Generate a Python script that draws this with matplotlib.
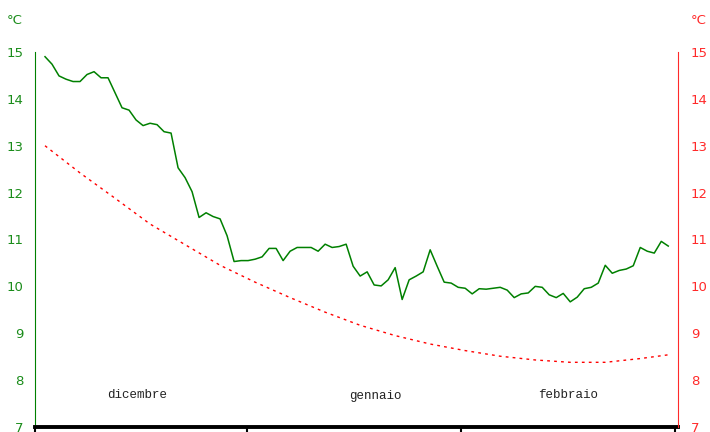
import matplotlib.pyplot as plt

# temperature giornaliera dicembre-febbraio
giorni = list(range(90))
temp_misurata = [
    14.90, 14.74, 14.49, 14.42, 14.37, 14.37, 14.52, 14.58, 14.45, 14.45,
    14.13, 13.81, 13.76, 13.55, 13.43, 13.48, 13.45, 13.30, 13.27, 12.53,
    12.32, 12.02, 11.47, 11.57, 11.49, 11.44, 11.08, 10.53, 10.55, 10.55,
    10.58, 10.63, 10.81, 10.81, 10.55, 10.75, 10.83, 10.83, 10.83, 10.75,
    10.90, 10.83, 10.85, 10.90, 10.43, 10.22, 10.31, 10.03, 10.01, 10.14,
    10.40, 9.72, 10.14, 10.22, 10.31, 10.78, 10.43, 10.09, 10.07, 9.98,
    9.96, 9.84, 9.95, 9.94, 9.96, 9.98, 9.92, 9.76, 9.84, 9.86,
    10.00, 9.98, 9.82, 9.76, 9.85, 9.67, 9.77, 9.95, 9.98, 10.07,
    10.45, 10.28, 10.34, 10.37, 10.44, 10.83, 10.75, 10.71, 10.96, 10.86,
]

# media climatologica (un valore ogni 5 giorni)
giorni_media = [0, 5, 10, 15, 20, 25, 30, 35, 40, 45, 50, 55, 60, 65, 70, 75, 80, 85, 89]
temp_media = [13.00, 12.42, 11.88, 11.33, 10.89, 10.45, 10.09, 9.76, 9.45, 9.17,
              8.95, 8.77, 8.63, 8.51, 8.43, 8.38, 8.38, 8.46, 8.54]

mesi = ["dicembre", "gennaio", "febbraio"]
pos_mesi = [0.159, 0.5295, 0.829]

verde = "#1a8c1a"
rosso = "#ff2a2a"

fig = plt.figure(figsize=(7.1, 4.32), dpi=100)
ax = fig.add_axes([35 / 710, 5 / 432, 643 / 710, 375 / 432])
ax2 = ax.twinx()

ax.plot(giorni, temp_misurata, color="green", lw=1.1)
ax2.plot(giorni_media, temp_media, color="red", lw=1.0, linestyle=(0, (2, 3)))

xmin, xmax = -1.43, 90.39
for a in (ax, ax2):
    a.set_xlim(xmin, xmax)
    a.set_ylim(7, 15)
    a.set_yticks(range(7, 16))
    a.spines["top"].set_visible(False)

larg = xmax - xmin
ax.set_xticks([xmin + f * larg for f in (0, 0.3297, 0.6625, 0.9953)])
ax.set_xticklabels([])
ax.tick_params(axis="x", direction="out", length=4, width=1.5, color="black")

ax.spines["bottom"].set_linewidth(2.8)
ax.spines["bottom"].set_color("black")
ax.spines["left"].set_color("green")
ax.spines["right"].set_visible(False)
ax.tick_params(axis="y", length=0, pad=8.4, labelcolor=verde, labelsize=9.5)

ax2.spines["right"].set_color(rosso)
ax2.spines["left"].set_visible(False)
ax2.spines["bottom"].set_visible(False)
ax2.tick_params(axis="y", length=0, pad=9.4, labelcolor=rosso, labelsize=9.5)

for m, p in zip(mesi, pos_mesi):
    ax.text(p, 0.084, m, transform=ax.transAxes, ha="center", va="center",
            family="Liberation Mono", fontsize=9, color="#222222")

fig.text(7 / 710, 1 - 20 / 432, "°C", color=verde, fontsize=9.5, va="center", ha="left")
fig.text(691 / 710, 1 - 20 / 432, "°C", color=rosso, fontsize=9.5, va="center", ha="left")

fig.savefig("out.png", dpi=100)
